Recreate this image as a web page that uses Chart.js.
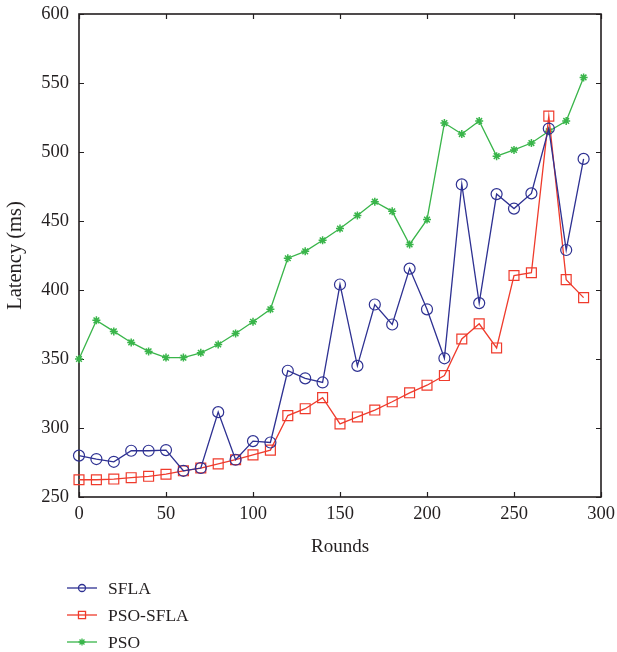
<!DOCTYPE html>
<html>
<head>
<meta charset="utf-8">
<script src="https://cdn.jsdelivr.net/npm/chart.js@4"></script>
<style>
  html, body { margin: 0; padding: 0; background: #fff; }
  #wrap { width: 617px; height: 652px; }
</style>
</head>
<body>
<div id="wrap"><canvas id="latencyChart" width="617" height="652"></canvas></div>
<script>
const rounds = [0, 10, 20, 30, 40, 50, 60, 70, 80, 90, 100, 110, 120, 130, 140,
  150, 160, 170, 180, 190, 200, 210, 220, 230, 240, 250, 260, 270, 280, 290];

const sfla = [280, 277.5, 275.5, 283.5, 283.5, 284, 269, 271, 311.5, 277, 290.5, 289.5, 341.5, 336, 333,
  404, 345, 389.5, 375, 415.5, 386, 350.5, 476.5, 390.5, 469.5, 459, 470, 517, 429, 495];

const psoSfla = [262.5, 262.5, 263, 264, 265, 266.5, 269, 271, 274, 277, 280.5, 284, 309, 314, 322,
  303, 308, 313, 319, 325.5, 331, 338, 364.5, 375.5, 358, 410.5, 412.5, 526, 407.5, 394.5];

const pso = [350, 378, 370, 362, 355.5, 351, 351, 354.5, 360.5, 368.5, 377, 386, 423, 428, 436,
  444.5, 454, 464, 457, 433, 451, 521, 513, 522.5, 497, 501.5, 506.5, 515, 522.5, 554];

const seriesNames = ['SFLA', 'PSO-SFLA', 'PSO'];
const xTitle = 'Rounds';
const yTitle = 'Latency (ms)';

const textColor = '#231f20';
const serif = '"Liberation Serif", "Times New Roman", serif';

function toPoints(vals) {
  return vals.map((v, i) => ({ x: rounds[i], y: v }));
}

// box with inward ticks, drawn under the lines
const framePlugin = {
  id: 'frame',
  beforeDatasetsDraw(chart) {
    const { ctx, chartArea: a, scales: { x, y } } = chart;
    ctx.save();
    ctx.strokeStyle = textColor;
    ctx.lineWidth = 1.6;
    ctx.strokeRect(a.left, a.top, a.right - a.left, a.bottom - a.top);
    ctx.lineWidth = 1.2;
    ctx.beginPath();
    x.ticks.forEach(t => {
      const px = Math.round(x.getPixelForValue(t.value)) + 0.5;
      ctx.moveTo(px, a.bottom); ctx.lineTo(px, a.bottom - 5);
      ctx.moveTo(px, a.top); ctx.lineTo(px, a.top + 5);
    });
    y.ticks.forEach(t => {
      const py = Math.round(y.getPixelForValue(t.value)) + 0.5;
      ctx.moveTo(a.left, py); ctx.lineTo(a.left + 5, py);
      ctx.moveTo(a.right, py); ctx.lineTo(a.right - 5, py);
    });
    ctx.stroke();
    ctx.restore();
  }
};

// vertical legend under the axis title
const legendPlugin = {
  id: 'vlegend',
  afterDraw(chart) {
    const { ctx } = chart;
    ctx.save();
    chart.data.datasets.forEach((ds, i) => {
      const yy = 588 + i * 27;
      ctx.strokeStyle = ds.borderColor;
      ctx.lineWidth = 1.3;
      ctx.beginPath();
      ctx.moveTo(67, yy); ctx.lineTo(97, yy);
      ctx.stroke();
      ctx.fillStyle = ds.pointBackgroundColor;
      Chart.helpers.drawPoint(ctx, {
        pointStyle: ds.pointStyle,
        radius: ds.legendRadius,
        rotation: 0,
        borderWidth: ds.pointBorderWidth
      }, 82, yy);
      ctx.fillStyle = textColor;
      ctx.font = '17.5px ' + serif;
      ctx.textBaseline = 'middle';
      ctx.textAlign = 'left';
      ctx.fillText(ds.label, 108, yy + 1);
    });
    ctx.restore();
  }
};

new Chart(document.getElementById('latencyChart'), {
  type: 'line',
  data: {
    datasets: [
      {
        label: seriesNames[0],
        data: toPoints(sfla),
        borderColor: '#2e3192',
        borderWidth: 1.3,
        pointStyle: 'circle',
        pointRadius: 5.5,
        legendRadius: 3.5,
        pointBorderWidth: 1.2,
        pointBackgroundColor: 'transparent',
        pointBorderColor: '#2e3192',
        tension: 0,
        clip: false
      },
      {
        label: seriesNames[1],
        data: toPoints(psoSfla),
        borderColor: '#ef3b2c',
        borderWidth: 1.3,
        pointStyle: 'rect',
        pointRadius: 7,
        legendRadius: 5,
        pointBorderWidth: 1.2,
        pointBackgroundColor: 'transparent',
        pointBorderColor: '#ef3b2c',
        tension: 0,
        clip: false
      },
      {
        label: seriesNames[2],
        data: toPoints(pso),
        borderColor: '#39b54a',
        borderWidth: 1.3,
        pointStyle: 'star',
        pointRadius: 4,
        legendRadius: 3.5,
        pointBorderWidth: 1.5,
        pointBackgroundColor: '#39b54a',
        pointBorderColor: '#39b54a',
        tension: 0,
        clip: false
      }
    ]
  },
  options: {
    responsive: false,
    animation: false,
    events: [],
    layout: { padding: { left: 0, top: 14, right: 16, bottom: 93 } },
    plugins: {
      legend: { display: false },
      tooltip: { enabled: false }
    },
    scales: {
      x: {
        type: 'linear',
        min: 0,
        max: 300,
        ticks: { stepSize: 50, color: textColor, font: { family: serif, size: 18.5 }, padding: 6, maxRotation: 0 },
        grid: { display: false, drawTicks: false },
        border: { display: false },
        title: { display: true, text: xTitle, color: textColor, font: { family: serif, size: 19 }, padding: { top: 0, bottom: 1 } },
        afterFit(scale) {
          scale.height = 62;
          scale.paddingLeft = 0;
          scale.paddingRight = 0;
        }
      },
      y: {
        type: 'linear',
        min: 250,
        max: 600,
        ticks: { stepSize: 50, color: textColor, font: { family: serif, size: 18.5 }, padding: 10 },
        grid: { display: false, drawTicks: false },
        border: { display: false },
        title: { display: true, text: yTitle, color: textColor, font: { family: serif, size: 20.5 }, padding: { top: 3, bottom: 0 } },
        afterFit(scale) {
          scale.width = 79;
          scale.paddingTop = 0;
          scale.paddingBottom = 0;
        }
      }
    }
  },
  plugins: [framePlugin, legendPlugin]
});
</script>
</body>
</html>
